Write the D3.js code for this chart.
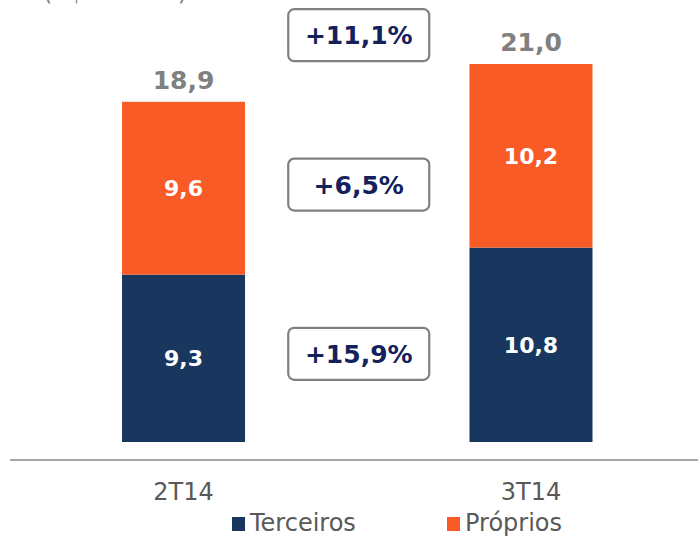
<!DOCTYPE html>
<html>
<head>
<meta charset="utf-8">
<script src="https://cdn.jsdelivr.net/npm/d3@7"></script>
<style>
  body { margin: 0; background: #fff; }
  svg { display: block; font-family: Verdana, "DejaVu Sans", sans-serif; }
</style>
</head>
<body>
<div id="chart"></div>
<script>
const periods = ["2T14", "3T14"];
const terceiros = [9.3, 10.8];
const proprios = [9.6, 10.2];
const totals = [18.9, 21.0];
const seriesNames = ["Terceiros", "Próprios"];
const growthLabels = ["+11,1%", "+6,5%", "+15,9%"];
const growthLevels = [22.6, 14.3, 4.9]; /* where each box sits, in chart units */

const width = 698, height = 537;
const colors = {Terceiros: "#19365f", "Próprios": "#f95b26"};
const fmt = v => v.toFixed(1).replace(".", ",");

const svg = d3.select("#chart").append("svg")
  .attr("width", width)
  .attr("height", height);

const x = d3.scaleBand()
  .domain(periods)
  .range([122, 592.5])
  .paddingInner(0.646)
  .paddingOuter(0);

const y = d3.scaleLinear()
  .domain([0, 21])
  .range([442, 64]);

/* cut-off unit caption at the very top */
svg.append("text")
  .attr("x", 43).attr("y", 0)
  .attr("font-size", 24)
  .attr("fill", "#7f7f7f")
  .text("(R$ bilhões)");

const rows = periods.map((p, i) => ({period: p, Terceiros: terceiros[i], "Próprios": proprios[i], total: totals[i]}));
const stacked = d3.stack().keys(seriesNames)(rows);

const layers = svg.selectAll("g.layer")
  .data(stacked)
  .join("g")
    .attr("class", "layer")
    .attr("fill", d => colors[d.key]);

layers.selectAll("rect")
  .data(d => d)
  .join("rect")
    .attr("x", d => x(d.data.period))
    .attr("width", x.bandwidth())
    .attr("y", d => y(d[1]))
    .attr("height", d => y(d[0]) - y(d[1]));

/* segment values */
layers.selectAll("text")
  .data(d => d.map(s => ({s, key: d.key})))
  .join("text")
    .attr("x", d => x(d.s.data.period) + x.bandwidth() / 2)
    .attr("y", d => (y(d.s[0]) + y(d.s[1])) / 2)
    .attr("dy", "0.36em")
    .attr("text-anchor", "middle")
    .attr("font-size", 22)
    .attr("font-weight", "bold")
    .attr("fill", "#fff")
    .text(d => fmt(d.s.data[d.key]));

/* totals */
svg.selectAll("text.total")
  .data(rows)
  .join("text")
    .attr("class", "total")
    .attr("x", d => x(d.period) + x.bandwidth() / 2)
    .attr("y", d => y(d.total) - 13)
    .attr("text-anchor", "middle")
    .attr("font-size", 25)
    .attr("font-weight", "bold")
    .attr("fill", "#808080")
    .text(d => fmt(d.total));

/* growth boxes between the bars */
const midX = (x(periods[0]) + x.bandwidth() + x(periods[1])) / 2 + 1.5;
const boxes = svg.selectAll("g.growth")
  .data(growthLabels.map((t, i) => ({t, v: growthLevels[i]})))
  .join("g")
    .attr("class", "growth")
    .attr("transform", d => `translate(${midX},${y(d.v)})`);

boxes.append("rect")
  .attr("x", -70.5).attr("y", -26)
  .attr("width", 141).attr("height", 52)
  .attr("rx", 6)
  .attr("fill", "#fff")
  .attr("stroke", "#808080")
  .attr("stroke-width", 2.2);

boxes.append("text")
  .attr("text-anchor", "middle")
  .attr("dy", "0.36em")
  .attr("font-size", 25)
  .attr("font-weight", "bold")
  .attr("fill", "#14215c")
  .text(d => d.t);

/* base line */
svg.append("line")
  .attr("x1", 10).attr("x2", width)
  .attr("y1", 460).attr("y2", 460)
  .attr("stroke", "#a6a6a6")
  .attr("stroke-width", 2);

/* category labels */
svg.selectAll("text.cat")
  .data(periods)
  .join("text")
    .attr("class", "cat")
    .attr("x", d => x(d) + x.bandwidth() / 2)
    .attr("y", 500)
    .attr("text-anchor", "middle")
    .attr("font-size", 24)
    .attr("fill", "#595959")
    .text(d => d);

/* legend */
const legendX = [232, 447];
const legend = svg.selectAll("g.legend")
  .data(seriesNames)
  .join("g")
    .attr("class", "legend")
    .attr("transform", (d, i) => `translate(${legendX[i]},517)`);

legend.append("rect")
  .attr("width", 13).attr("height", 14)
  .attr("fill", d => colors[d]);

legend.append("text")
  .attr("x", 18).attr("y", 14)
  .attr("font-size", 24)
  .attr("fill", "#595959")
  .text(d => d);
</script>
</body>
</html>
